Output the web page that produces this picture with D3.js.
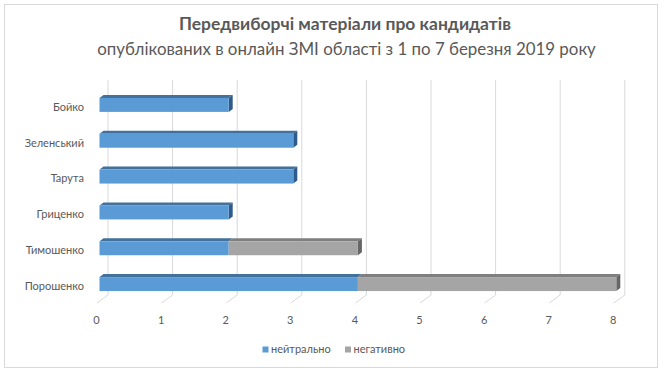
<!DOCTYPE html>
<html><head><meta charset="utf-8">
<script src="https://cdn.jsdelivr.net/npm/d3@7"></script>
<style>body{margin:0;background:#fff}svg{display:block}</style>
</head><body>
<svg id="c" width="665" height="373"></svg>
<script>
const categories = ["Бойко","Зеленський","Тарута","Гриценко","Тимошенко","Порошенко"];
const neutral = [2,3,3,2,2,4];
const negative = [0,0,0,0,2,4];
const ticks = [0,1,2,3,4,5,6,7,8];
const seriesNames = ["нейтрально","негативно"];
const titleText = "Передвиборчі матеріали про кандидатів";
const subtitleText = "опублікованих в онлайн ЗМІ області з 1 по 7 березня 2019 року";

const svg = d3.select("#c");
const font = "Lato, 'Open Sans', sans-serif";
const txt = "#595959";
svg.append("rect").attr("x",4.5).attr("y",4.5).attr("width",653).attr("height",363)
  .attr("fill","#fff").attr("stroke","#d9d9d9");

function fitText(sel, w){
  let fs = +sel.attr("font-size");
  const len = sel.node().getComputedTextLength();
  sel.attr("font-size", fs*w/len);
}
const t1 = svg.append("text").attr("x",345).attr("y",30).attr("text-anchor","middle")
  .attr("font-family",font).attr("font-weight","bold").attr("font-size",16).attr("fill",txt).text(titleText);
fitText(t1, 332);
const t2 = svg.append("text").attr("x",346.5).attr("y",55).attr("text-anchor","middle")
  .attr("font-family",font).attr("font-size",17).attr("fill",txt).text(subtitleText);
fitText(t2, 499);

const x = d3.scaleLinear().domain([0,8]).range([99.5,616.3]);
const y = d3.scaleBand().domain(categories).range([87,302]).paddingInner(0.61).paddingOuter(0.305);
const dx = 8.5, dy = -7.5;

// back gridlines and floor diagonals
const g = svg.append("g");
ticks.forEach(t=>{
  const xv = x(t);
  g.append("line").attr("x1",xv+dx).attr("x2",xv+dx).attr("y1",80).attr("y2",295)
    .attr("stroke","#d9d9d9").attr("stroke-width",1);
  g.append("line").attr("x1",xv-2.5).attr("y1",303).attr("x2",xv+dx).attr("y2",295)
    .attr("stroke","#d9d9d9").attr("stroke-width",1);
  g.append("text").attr("x",xv-3).attr("y",324).attr("text-anchor","middle")
    .attr("font-family",font).attr("font-size",11).attr("fill",txt).text(t);
});

// category labels
categories.forEach(c=>{
  svg.append("text").attr("x",84).attr("y",y(c)+y.bandwidth()/2+2).attr("dy","0.35em")
    .attr("text-anchor","end").attr("font-family",font).attr("font-size",11).attr("fill",txt).text(c);
});

// bars
const colors = [{front:"#5B9BD5",top:"#41719C",side:"#2E5B8A"},{front:"#A5A5A5",top:"#7F7F7F",side:"#666666"}];
const bd = 4, bh = -3;
categories.forEach((c,i)=>{
  const vals = [neutral[i], negative[i]];
  let start = 0;
  const total = vals[0]+vals[1];
  const top = y(c), bot = y(c)+y.bandwidth();
  vals.forEach((v,s)=>{
    if(v<=0) return;
    const x0 = x(start), x1 = x(start+v);
    const col = colors[s];
    svg.append("path").attr("d",`M${x0},${top}L${x0+bd},${top+bh}L${x1+bd},${top+bh}L${x1},${top}Z`).attr("fill",col.top);
    if(start+v===total){
      svg.append("path").attr("d",`M${x1},${top}L${x1+bd},${top+bh}L${x1+bd},${bot+bh}L${x1},${bot}Z`).attr("fill",col.side);
    }
    svg.append("rect").attr("x",x0).attr("y",top).attr("width",x1-x0).attr("height",bot-top).attr("fill",col.front);
    start += v;
  });
});

// legend
const lg = svg.append("g");
const legItems = [{x:262.5,name:seriesNames[0],c:colors[0].front},{x:345,name:seriesNames[1],c:colors[1].front}];
legItems.forEach(l=>{
  lg.append("rect").attr("x",l.x).attr("y",346.5).attr("width",6).attr("height",6).attr("fill",l.c);
  lg.append("text").attr("x",l.x+8.5).attr("y",349.5).attr("dy","0.35em").attr("font-family",font)
    .attr("font-size",11).attr("fill",txt).text(l.name);
});
</script>
</body></html>
